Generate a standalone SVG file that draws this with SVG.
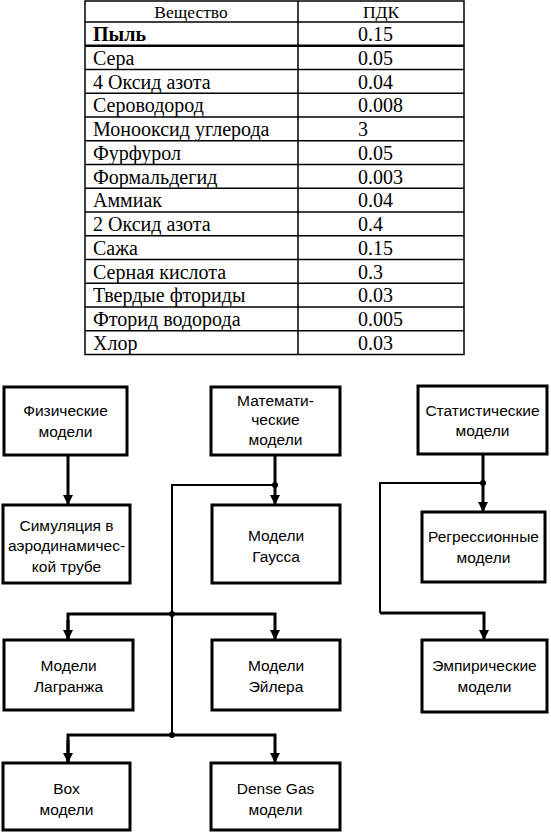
<svg xmlns="http://www.w3.org/2000/svg" width="551" height="835" viewBox="0 0 551 835">
<defs>
<style>
.tb{fill:none;stroke:#000;stroke-width:1.5}
.tt{font-family:"Liberation Serif","Times New Roman",serif;font-size:20px;fill:#000}
.th{font-family:"Liberation Serif","Times New Roman",serif;font-size:17.5px;fill:#000}
.box{fill:#fff;stroke:#000;stroke-width:3}
.lbl{font-family:"Liberation Sans",Arial,sans-serif;font-size:15.5px;fill:#000;text-anchor:middle}
.con{fill:none;stroke:#000;stroke-width:3}
.thin{fill:none;stroke:#000;stroke-width:2}
</style>
<marker id="ah" viewBox="0 0 10 10" refX="10" refY="5" markerWidth="10" markerHeight="10" markerUnits="userSpaceOnUse" orient="auto">
<path d="M0,0 L10,5 L0,10 Z" fill="#000"/>
</marker>
</defs>
<rect width="551" height="835" fill="#fff"/>
<g id="table">
<rect class="tb" x="85" y="1" width="379" height="353.5"/>
<line class="tb" x1="298" y1="1" x2="298" y2="354.5"/>
<g class="tb">
<line x1="85" y1="22" x2="464" y2="22"/>
<line x1="85" y1="45.75" x2="464" y2="45.75" stroke-width="2.5"/>
<line x1="85" y1="69.5" x2="464" y2="69.5"/>
<line x1="85" y1="93.25" x2="464" y2="93.25"/>
<line x1="85" y1="117" x2="464" y2="117"/>
<line x1="85" y1="140.75" x2="464" y2="140.75"/>
<line x1="85" y1="164.5" x2="464" y2="164.5"/>
<line x1="85" y1="188.25" x2="464" y2="188.25"/>
<line x1="85" y1="212" x2="464" y2="212"/>
<line x1="85" y1="235.75" x2="464" y2="235.75"/>
<line x1="85" y1="259.5" x2="464" y2="259.5"/>
<line x1="85" y1="283.25" x2="464" y2="283.25"/>
<line x1="85" y1="307" x2="464" y2="307"/>
<line x1="85" y1="330.75" x2="464" y2="330.75"/>
</g>
<text class="th" x="191" y="18" text-anchor="middle">Вещество</text>
<text class="th" x="381" y="18" text-anchor="middle">ПДК</text>
<text class="tt" x="93" y="41" font-weight="bold">Пыль</text><text class="tt" x="358" y="41">0.15</text>
<text class="tt" x="93" y="64.5">Сера</text><text class="tt" x="358" y="64.5">0.05</text>
<text class="tt" x="93" y="88.5">4 Оксид азота</text><text class="tt" x="358" y="88.5">0.04</text>
<text class="tt" x="93" y="112">Сероводород</text><text class="tt" x="358" y="112">0.008</text>
<text class="tt" x="93" y="136">Монооксид углерода</text><text class="tt" x="358" y="136">3</text>
<text class="tt" x="93" y="160">Фурфурол</text><text class="tt" x="358" y="160">0.05</text>
<text class="tt" x="93" y="183.5">Формальдегид</text><text class="tt" x="358" y="183.5">0.003</text>
<text class="tt" x="93" y="207">Аммиак</text><text class="tt" x="358" y="207">0.04</text>
<text class="tt" x="93" y="231">2 Оксид азота</text><text class="tt" x="358" y="231">0.4</text>
<text class="tt" x="93" y="255">Сажа</text><text class="tt" x="358" y="255">0.15</text>
<text class="tt" x="93" y="278.5">Серная кислота</text><text class="tt" x="358" y="278.5">0.3</text>
<text class="tt" x="93" y="302">Твердые фториды</text><text class="tt" x="358" y="302">0.03</text>
<text class="tt" x="93" y="326">Фторид водорода</text><text class="tt" x="358" y="326">0.005</text>
<text class="tt" x="93" y="350">Хлор</text><text class="tt" x="358" y="350">0.03</text>
</g>
<g id="connectors">
<line class="con" x1="68" y1="455" x2="68" y2="505" marker-end="url(#ah)"/>
<line class="con" x1="275" y1="455" x2="275" y2="505" marker-end="url(#ah)"/>
<polyline class="thin" points="275,485 172,485 172,735"/>
<polyline class="con" points="68,640 68,614 275,614 275,640" marker-end="url(#ah)"/>
<line class="con" x1="68" y1="620" x2="68" y2="640" marker-end="url(#ah)"/>
<polyline class="con" points="68,763 68,735 275,735 275,763" marker-end="url(#ah)"/>
<line class="con" x1="68" y1="740" x2="68" y2="763" marker-end="url(#ah)"/>
<line class="con" x1="483" y1="454" x2="483" y2="512" marker-end="url(#ah)"/>
<polyline class="thin" points="483,483 380,483 380,613"/>
<polyline class="con" points="380,613 484,613 484,640" marker-end="url(#ah)"/>
<circle cx="275" cy="485" r="3"/>
<circle cx="172" cy="614" r="3"/>
<circle cx="172" cy="735" r="3"/>
<circle cx="483" cy="483" r="3"/>
</g>
<g id="phys"><rect class="box" x="4" y="387" width="123" height="68"/><text class="lbl" x="65.5" y="416">Физические</text><text class="lbl" x="65.5" y="437">модели</text></g>
<g id="math"><rect class="box" x="211" y="387" width="129" height="68"/><text class="lbl" x="275.5" y="406">Математи-</text><text class="lbl" x="275.5" y="425">ческие</text><text class="lbl" x="275.5" y="445">модели</text></g>
<g id="stat"><rect class="box" x="418" y="386" width="129" height="68"/><text class="lbl" x="482.5" y="416">Статистические</text><text class="lbl" x="482.5" y="436">модели</text></g>
<g id="sim"><rect class="box" x="3" y="505" width="127" height="78"/><text class="lbl" x="66.5" y="531">Симуляция в</text><text class="lbl" x="66.5" y="551">аэродинамичес-</text><text class="lbl" x="66.5" y="572">кой трубе</text></g>
<g id="gauss"><rect class="box" x="212" y="505" width="128" height="78"/><text class="lbl" x="276" y="541">Модели</text><text class="lbl" x="276" y="562">Гаусса</text></g>
<g id="regr"><rect class="box" x="422" y="512" width="123" height="70"/><text class="lbl" x="483.5" y="542">Регрессионные</text><text class="lbl" x="483.5" y="563">модели</text></g>
<g id="lagr"><rect class="box" x="4" y="640" width="129" height="70"/><text class="lbl" x="68.5" y="671">Модели</text><text class="lbl" x="68.5" y="692">Лагранжа</text></g>
<g id="euler"><rect class="box" x="212" y="640" width="128" height="70"/><text class="lbl" x="276" y="671">Модели</text><text class="lbl" x="276" y="692">Эйлера</text></g>
<g id="emp"><rect class="box" x="422" y="640" width="125" height="72"/><text class="lbl" x="484.5" y="671">Эмпирические</text><text class="lbl" x="484.5" y="692">модели</text></g>
<g id="box"><rect class="box" x="3" y="763" width="127" height="67"/><text class="lbl" x="66.5" y="794">Box</text><text class="lbl" x="66.5" y="815">модели</text></g>
<g id="dense"><rect class="box" x="211" y="763" width="129" height="67"/><text class="lbl" x="275.5" y="794">Dense Gas</text><text class="lbl" x="275.5" y="815">модели</text></g>
</svg>
